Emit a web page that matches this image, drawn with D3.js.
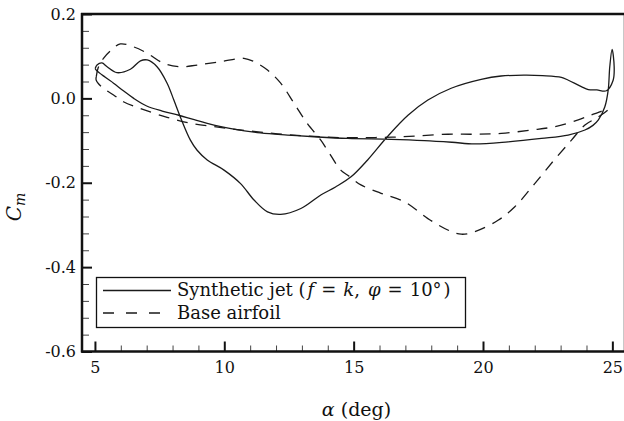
<!DOCTYPE html>
<html>
<head>
<meta charset="utf-8">
<script src="https://cdn.jsdelivr.net/npm/d3@7"></script>
<style>
  html, body { margin: 0; padding: 0; background: #fff; }
  svg { display: block; font-family: "DejaVu Serif", "Liberation Serif", serif; }
</style>
</head>
<body>
<svg id="chart" width="624" height="421"></svg>
<script>
// Pitching moment hysteresis loops, Cm vs angle of attack (deg)
const seriesNames = ["Synthetic jet", "Base airfoil"];

// Synthetic jet: upstroke then downstroke, closed loop
const jetAlpha = [5.01, 5.05, 5.4, 5.72, 6.1, 6.5, 7.0, 7.6, 8.24, 8.8, 9.34, 10.37, 11.4, 12.44, 13.47, 14.77, 16.45, 17.74, 18.8, 19.68, 20.97, 22.26, 23.29, 23.94, 24.25, 24.46, 24.71, 24.84, 24.9, 24.99,
  25.07, 25.03, 24.77, 24.4, 24.07, 23.8, 23.3, 23.03, 22.3, 21.6, 20.7, 19.93, 18.77, 17.87, 17.1, 16.3, 15.54, 14.9, 14.3, 13.73, 12.96, 12.18, 11.67, 11.15, 10.63, 9.99, 9.34, 8.95, 8.69, 8.3, 8.05, 7.79, 7.4, 7.02, 6.76, 6.37, 5.85, 5.47, 5.27, 5.08, 5.01];
const jetCm = [0.071, 0.067, 0.05, 0.036, 0.018, 0.0, -0.018, -0.03, -0.04, -0.05, -0.059, -0.073, -0.082, -0.087, -0.091, -0.095, -0.097, -0.1, -0.104, -0.108, -0.103, -0.095, -0.087, -0.075, -0.064, -0.051, -0.02, 0.02, 0.075, 0.116,
  0.075, 0.043, 0.018, 0.02, 0.021, 0.028, 0.043, 0.05, 0.054, 0.055, 0.053, 0.045, 0.024, -0.004, -0.04, -0.091, -0.146, -0.186, -0.21, -0.229, -0.261, -0.275, -0.269, -0.241, -0.202, -0.17, -0.146, -0.123, -0.099, -0.044, -0.004, 0.036, 0.075, 0.091, 0.089, 0.069, 0.061, 0.075, 0.084, 0.079, 0.071];

// Base airfoil: upstroke then downstroke, closed loop
const baseAlpha = [5.05, 5.05, 5.3, 5.72, 6.1, 6.76, 7.79, 8.69, 9.6, 10.5, 11.4, 12.44, 13.47, 14.5, 15.5, 16.5, 17.48, 18.64, 19.68, 20.71, 21.87, 22.78, 23.68, 24.33, 24.84,
  24.46, 23.94, 23.42, 22.78, 22.0, 21.23, 20.58, 19.68, 19.16, 18.64, 17.87, 16.96, 16.06, 15.28, 14.77, 14.5, 13.99, 13.73, 13.2, 12.7, 12.18, 11.67, 11.15, 10.76, 9.86, 8.95, 8.3, 7.66, 7.02, 6.5, 5.98, 5.66, 5.33, 5.14, 5.05];
const baseCm = [0.051, 0.043, 0.025, 0.008, -0.008, -0.024, -0.045, -0.059, -0.067, -0.074, -0.08, -0.086, -0.09, -0.093, -0.093, -0.092, -0.089, -0.085, -0.085, -0.083, -0.075, -0.067, -0.051, -0.036, -0.026,
  -0.044, -0.063, -0.099, -0.144, -0.202, -0.257, -0.289, -0.316, -0.322, -0.312, -0.285, -0.245, -0.225, -0.205, -0.182, -0.17, -0.123, -0.099, -0.059, -0.012, 0.036, 0.067, 0.087, 0.095, 0.087, 0.079, 0.075, 0.083, 0.107, 0.122, 0.129, 0.116, 0.095, 0.075, 0.051];

const xMajorTicks = [5, 10, 15, 20, 25];
const xMinorTicks = [6, 7, 8, 9, 11, 12, 13, 14, 16, 17, 18, 19, 21, 22, 23, 24];
const yMajorTicks = [-0.6, -0.4, -0.2, 0.0, 0.2];
const yMinorTicks = [-0.56, -0.52, -0.48, -0.44, -0.36, -0.32, -0.28, -0.24, -0.16, -0.12, -0.08, -0.04, 0.04, 0.08, 0.12, 0.16];

const svg = d3.select("#chart");
const plotLeft = 82, plotRight = 624, plotTop = 14, plotBottom = 351.5;

const x = d3.scaleLinear().domain([4.5, 25.45]).range([plotLeft, plotRight]);
const y = d3.scaleLinear().domain([-0.6, 0.2]).range([plotBottom, plotTop]);

const ink = "#111";

// Minor ticks
svg.append("g").attr("transform", `translate(0,${plotBottom})`)
  .call(d3.axisBottom(x).tickValues(xMinorTicks).tickSize(-6).tickFormat(""))
  .call(g => g.select(".domain").remove())
  .call(g => g.selectAll("line").attr("stroke", "#444").attr("stroke-width", 1));
svg.append("g").attr("transform", `translate(${plotLeft},0)`)
  .call(d3.axisLeft(y).tickValues(yMinorTicks).tickSize(-7).tickFormat(""))
  .call(g => g.select(".domain").remove())
  .call(g => g.selectAll("line").attr("stroke", "#444").attr("stroke-width", 1));

// Major ticks and labels
svg.append("g").attr("transform", `translate(0,${plotBottom})`)
  .call(d3.axisBottom(x).tickValues(xMajorTicks).tickSize(-10).tickPadding(10).tickFormat(d3.format("d")))
  .call(g => g.select(".domain").remove())
  .call(g => g.selectAll("line").attr("stroke", ink).attr("stroke-width", 2))
  .call(g => g.selectAll("text").attr("font-size", 16).attr("font-family", "DejaVu Serif").attr("fill", ink));
svg.append("g").attr("transform", `translate(${plotLeft},0)`)
  .call(d3.axisLeft(y).tickValues(yMajorTicks).tickSize(-10).tickPadding(6).tickFormat(d3.format(".1f")))
  .call(g => g.select(".domain").remove())
  .call(g => g.selectAll("line").attr("stroke", ink).attr("stroke-width", 2))
  .call(g => g.selectAll("text").attr("font-size", 16).attr("font-family", "DejaVu Serif").attr("fill", ink)
    .text(d => d3.format(".1f")(d).replace("−", "-")));

// Frame
svg.append("line").attr("x1", plotRight - 0.5).attr("x2", plotRight - 0.5).attr("y1", plotTop).attr("y2", plotBottom)
  .attr("stroke", "#c8c8c8").attr("stroke-width", 1);
svg.append("line").attr("x1", plotLeft - 1).attr("x2", plotRight).attr("y1", plotTop).attr("y2", plotTop)
  .attr("stroke", ink).attr("stroke-width", 2.5);
svg.append("line").attr("x1", plotLeft).attr("x2", plotLeft).attr("y1", plotTop - 1).attr("y2", plotBottom + 1)
  .attr("stroke", ink).attr("stroke-width", 2.5);
svg.append("line").attr("x1", plotLeft - 1).attr("x2", plotRight).attr("y1", plotBottom).attr("y2", plotBottom)
  .attr("stroke", ink).attr("stroke-width", 2.5);

// Curves
const line = d3.line().x(d => x(d[0])).y(d => y(d[1])).curve(d3.curveCatmullRom.alpha(0.5));
const jet = jetAlpha.map((a, i) => [a, jetCm[i]]);
const base = baseAlpha.map((a, i) => [a, baseCm[i]]);

svg.append("path").datum(base).attr("d", line)
  .attr("fill", "none").attr("stroke", "#1a1a1a").attr("stroke-width", 1.3)
  .attr("stroke-dasharray", "11,8");
svg.append("path").datum(jet).attr("d", line)
  .attr("fill", "none").attr("stroke", "#1a1a1a").attr("stroke-width", 1.3);

// Legend
const lg = svg.append("g");
lg.append("rect").attr("x", 96.5).attr("y", 277.5).attr("width", 369).attr("height", 50)
  .attr("fill", "#fff").attr("stroke", ink).attr("stroke-width", 1.3);
lg.append("line").attr("x1", 103).attr("x2", 171).attr("y1", 290.5).attr("y2", 290.5)
  .attr("stroke", "#1a1a1a").attr("stroke-width", 1.3);
lg.append("line").attr("x1", 103).attr("x2", 171).attr("y1", 313).attr("y2", 313)
  .attr("stroke", "#1a1a1a").attr("stroke-width", 1.3).attr("stroke-dasharray", "11,12");

const t1 = lg.append("text").attr("x", 177).attr("y", 290).attr("dy", "0.35em")
  .attr("font-size", 18).attr("fill", ink);
t1.append("tspan").text(seriesNames[0] + " (");
t1.append("tspan").attr("font-style", "italic").attr("dx", 2).text("f");
t1.append("tspan").attr("dx", 7).text("=");
t1.append("tspan").attr("font-style", "italic").attr("dx", 7).text("k");
t1.append("tspan").text(",");
t1.append("tspan").attr("font-style", "italic").attr("dx", 8).text("φ");
t1.append("tspan").attr("dx", 7).text("=");
t1.append("tspan").attr("dx", 7).text("10°");
t1.append("tspan").attr("dx", 2).text(")");
lg.append("text").attr("x", 177).attr("y", 313).attr("dy", "0.35em")
  .attr("font-size", 18).attr("fill", ink).text(seriesNames[1]);

// Axis titles
const xt = svg.append("text").attr("x", 356.5).attr("y", 409).attr("dy", "0.35em")
  .attr("text-anchor", "middle").attr("font-size", 19).attr("fill", ink);
xt.append("tspan").attr("font-style", "italic").text("α");
xt.append("tspan").text(" (deg)");

const yt = svg.append("text").attr("transform", "translate(21,207) rotate(-90)")
  .attr("text-anchor", "middle").attr("font-size", 20).attr("fill", ink);
yt.append("tspan").attr("font-style", "italic").text("C");
yt.append("tspan").attr("font-style", "italic").attr("font-size", 14).attr("dy", 4).text("m");
</script>
</body>
</html>
